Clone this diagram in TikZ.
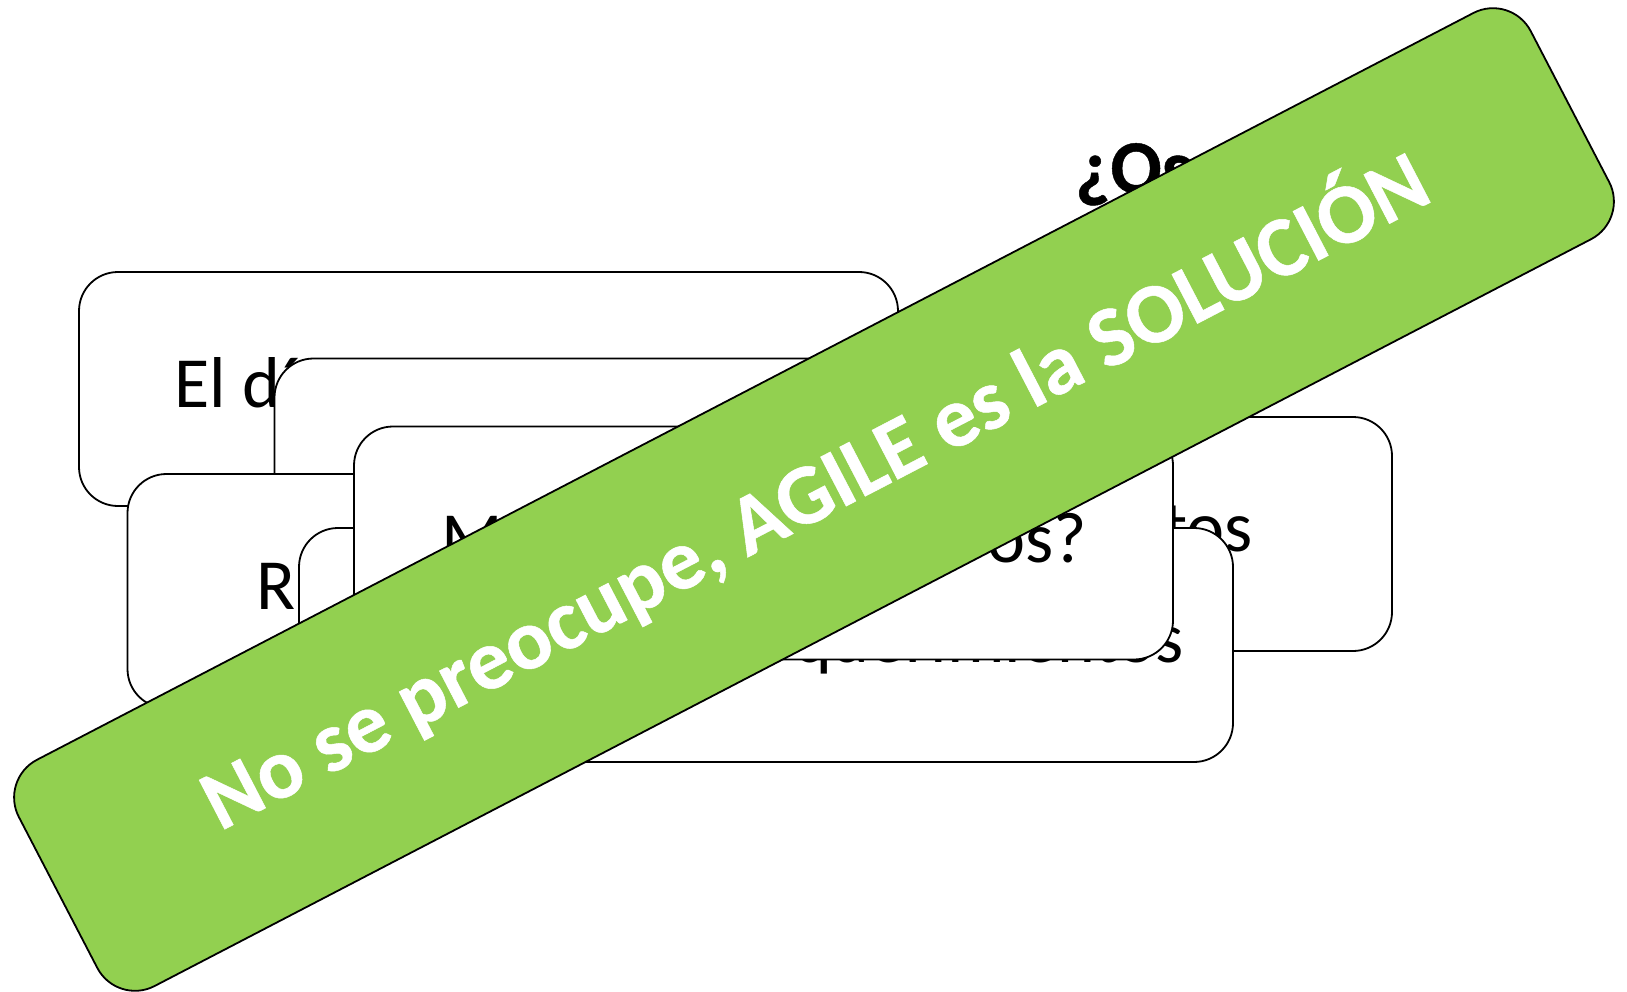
\documentclass[tikz,border=0pt]{standalone}
\usepackage{fontspec}
\setmainfont{Carlito}[BoldFeatures={FakeBold=0.6}]
\definecolor{agilegreen}{HTML}{92D050}
\tikzset{
  x=1pt,y=-1pt,
  card/.style={draw=black,line width=1.8pt,fill=white,rounded corners=39pt,inner sep=0pt,minimum width=#1},
  card/.default=819pt,
  cardtext/.style={inner sep=0pt,anchor=base west,font=\fontsize{72}{86}\selectfont,text=black},
  titletext/.style={inner sep=0pt,anchor=base west,font=\fontsize{76}{90}\selectfont\bfseries,text=black},
  bannerbox/.style={draw=black,line width=1.8pt,fill=agilegreen,rounded corners=42.5pt,rotate=27.47,
    minimum width=1704pt,minimum height=255pt,inner sep=0pt},
  bannertext/.style={rotate=27.47,inner sep=0pt,text=white,font=\fontsize{85.5}{100}\selectfont\bfseries},
}
\begin{document}
\begin{tikzpicture}
\useasboundingbox (0,0) rectangle (1627,992);
\node[titletext] (title) at (1075,193) {¿Os};
\node[card=819pt,minimum height=234pt] (a) at (488.5,389) {};
\node[cardtext] (ta) at (174,407) {El dí};
\node[card=819pt,minimum height=234pt] (b) at (684,475.5) {};
\node[card=819pt,minimum height=234pt] (c) at (537,591) {};
\node[cardtext] (tc) at (256,609) {R};
\node[card=700pt,minimum height=234pt] (d) at (1042,534) {};
\node[cardtext,anchor=base east] (td) at (1253,551) {tos};
\node[card=934pt,minimum height=234pt] (e) at (766,645) {};
\node[cardtext,anchor=base east] (te) at (1184,662) {querimientos};
\node[card=819pt,minimum height=233pt] (f) at (763.5,543) {};
\node[cardtext] (tf1) at (441,562) {M};
\node[cardtext,anchor=base east] (tf2) at (1087,562) {os?};
\node[bannerbox] (banner) at (814,499.5) {};
\node[bannertext] (bt) at (814,490) {No se preocupe, AGILE es la SOLUCIÓN};
\end{tikzpicture}
\end{document}
